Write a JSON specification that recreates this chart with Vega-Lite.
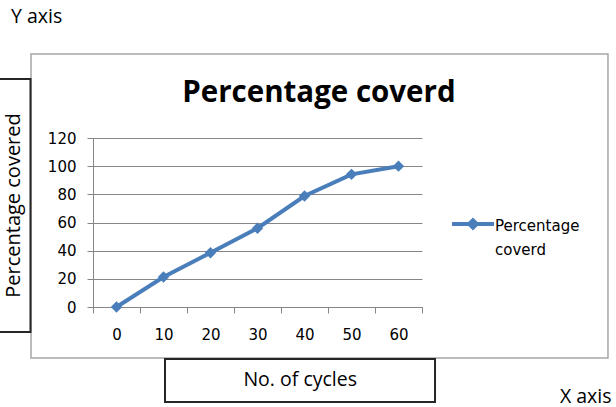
{
  "$schema": "https://vega.github.io/schema/vega-lite/v6.json",
  "width": 329,
  "height": 169,
  "autosize": {"type": "none"},
  "padding": {"left": 93, "top": 138, "right": 194, "bottom": 100},
  "background": "#ffffff",
  "title": {"text": "Y axis", "anchor": "start", "frame": "group", "dx": -82, "offset": 11, "baseline": "alphabetic", "font": "Open Sans", "fontSize": 19.5, "fontWeight": "normal", "color": "#000000"},
  "config": {"view": {"stroke": null}, "style": {"guide-label": {"lineHeight": 24}}},
  "data": {"values": [
    {"cycles": 0, "pct": 0, "series": "Percentage coverd"},
    {"cycles": 10, "pct": 21.3, "series": "Percentage coverd"},
    {"cycles": 20, "pct": 38.5, "series": "Percentage coverd"},
    {"cycles": 30, "pct": 55.9, "series": "Percentage coverd"},
    {"cycles": 40, "pct": 78.8, "series": "Percentage coverd"},
    {"cycles": 50, "pct": 94.2, "series": "Percentage coverd"},
    {"cycles": 60, "pct": 100, "series": "Percentage coverd"}
  ]},
  "resolve": {"axis": {"x": "independent", "y": "independent"}},
  "layer": [
    {
      "data": {"values": [{}]},
      "mark": {"type": "rect", "filled": false, "color": "#a6a6a6", "strokeWidth": 1.5},
      "encoding": {
        "x": {"datum": -18.19, "type": "quantitative", "scale": {"domain": [-5, 65], "nice": false, "zero": false}, "axis": null},
        "x2": {"datum": 104.57},
        "y": {"datum": 179.64, "type": "quantitative", "scale": {"domain": [0, 120], "nice": false}, "axis": null},
        "y2": {"datum": -36.21}
      }
    },
    {
      "data": {"values": [{}]},
      "mark": {"type": "rect", "filled": false, "color": "#262626", "strokeWidth": 2},
      "encoding": {
        "x": {"datum": -25.21, "type": "quantitative", "scale": {"domain": [-5, 65], "nice": false, "zero": false}, "axis": null},
        "x2": {"datum": -18.3},
        "y": {"datum": 161.89, "type": "quantitative", "scale": {"domain": [0, 120], "nice": false}, "axis": null},
        "y2": {"datum": -17.75}
      }
    },
    {
      "data": {"values": [{}]},
      "mark": {"type": "rect", "filled": false, "color": "#262626", "strokeWidth": 2},
      "encoding": {
        "x": {"datum": 10.32, "type": "quantitative", "scale": {"domain": [-5, 65], "nice": false, "zero": false}, "axis": null},
        "x2": {"datum": 67.77},
        "y": {"datum": -36.92, "type": "quantitative", "scale": {"domain": [0, 120], "nice": false}, "axis": null},
        "y2": {"datum": -67.46}
      }
    },
    {
      "mark": {"type": "line", "strokeWidth": 4, "point": {"shape": "diamond", "size": 130, "filled": true}},
      "encoding": {
        "x": {"field": "cycles", "type": "quantitative", "scale": {"domain": [-5, 65], "nice": false, "zero": false},
          "axis": {"values": [-5, 5, 15, 25, 35, 45, 55, 65], "labelExpr": "datum.value < 60 ? format(datum.value + 5, 'd') : ''", "labelOffset": 23.5, "labelFlush": false, "labelOverlap": false, "labelBound": false, "grid": false, "tickSize": 6, "tickColor": "#868686", "domainColor": "#868686", "labelFont": "DejaVu Sans", "labelFontSize": 15, "labelColor": "#000000", "labelPadding": 14,
            "title": "No. of cycles", "titleX": 206.7, "titleY": 78, "titleAlign": "center", "titleBaseline": "alphabetic", "titleFont": "Open Sans", "titleFontSize": 19.5, "titleFontWeight": "normal", "titleColor": "#000000"}},
        "y": {"field": "pct", "type": "quantitative", "scale": {"domain": [0, 120], "nice": false},
          "axis": {"values": [0, 20, 40, 60, 80, 100, 120], "grid": true, "gridColor": "#868686", "gridWidth": 1, "tickSize": 6, "tickColor": "#868686", "domainColor": "#868686", "labelFont": "DejaVu Sans", "labelFontSize": 15, "labelColor": "#000000", "labelPadding": 11,
            "title": "Percentage covered", "titleX": -73.5, "titleY": 67, "titleAngle": 270, "titleAlign": "center", "titleBaseline": "alphabetic", "titleFont": "Open Sans", "titleFontSize": 20, "titleFontWeight": "normal", "titleColor": "#000000"}},
        "color": {"field": "series", "type": "nominal", "scale": {"range": ["#4a7ebb"]},
          "legend": {"orient": "none", "legendX": 357, "legendY": 65, "title": null, "symbolType": "M-1,-0.095H1M-0.18,-0.095L0,-0.275L0.18,-0.095L0,0.085Z", "symbolSize": 1764, "symbolStrokeWidth": 4, "symbolFillColor": "#4a7ebb", "symbolStrokeColor": "#4a7ebb", "labelExpr": "split(datum.label, ' ')", "labelFont": "DejaVu Sans", "labelFontSize": 15, "labelColor": "#000000", "labelOffset": -1, "padding": 0}}
      }
    },
    {
      "mark": {"type": "point", "opacity": 0},
      "encoding": {
        "x": {"field": "cycles", "type": "quantitative", "scale": {"domain": [-5, 65], "nice": false, "zero": false},
          "axis": {"orient": "top", "title": "Percentage coverd", "labels": false, "ticks": false, "domain": false, "grid": false, "titleX": 225.4, "titleY": -36.3, "titleAlign": "center", "titleBaseline": "alphabetic", "titleFont": "Open Sans", "titleFontSize": 29.5, "titleFontWeight": "bold", "titleColor": "#000000"}},
        "y": {"field": "pct", "type": "quantitative", "scale": {"domain": [0, 120], "nice": false},
          "axis": {"orient": "right", "title": "X axis", "labels": false, "ticks": false, "domain": false, "grid": false, "titleX": 189, "titleY": 264, "titleAngle": 0, "titleAlign": "right", "titleBaseline": "alphabetic", "titleFont": "Open Sans", "titleFontSize": 19.5, "titleFontWeight": "normal", "titleColor": "#000000"}}
      }
    }
  ]
}
